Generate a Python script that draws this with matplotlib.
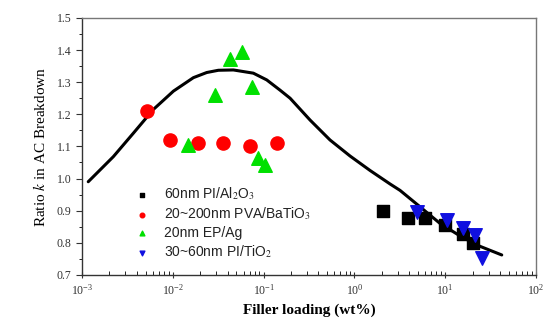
import numpy as np
import matplotlib
matplotlib.use("Agg")
import matplotlib.pyplot as plt
from matplotlib.ticker import LogLocator, MultipleLocator, NullFormatter

plt.rcParams['mathtext.fontset'] = 'stix'

# data
al2o3_x = [2.07, 3.9, 6.0, 10.0, 15.7, 20.0]
al2o3_y = [0.899, 0.878, 0.878, 0.855, 0.827, 0.800]

batio3_x = [0.0052, 0.0093, 0.019, 0.036, 0.071, 0.14]
batio3_y = [1.21, 1.12, 1.11, 1.11, 1.10, 1.11]

ag_x = [0.0147, 0.029, 0.0427, 0.0578, 0.0745, 0.0867, 0.1035]
ag_y = [1.104, 1.26, 1.372, 1.394, 1.285, 1.064, 1.042]

tio2_x = [4.9, 10.5, 15.7, 21.0, 25.4]
tio2_y = [0.896, 0.871, 0.846, 0.824, 0.752]

# fitted curve, points
fit_x = [0.00117, 0.00221, 0.00367, 0.0061, 0.01014, 0.01683, 0.0236, 0.0317,
         0.0464, 0.077, 0.1081, 0.1517, 0.1955, 0.3245, 0.538, 0.895,
         1.486, 2.466, 3.18, 5.27, 8.77, 14.6, 24.1, 41.9]
fit_y = [0.990, 1.068, 1.141, 1.215, 1.272, 1.314, 1.330, 1.337,
         1.338, 1.328, 1.307, 1.275, 1.250, 1.182, 1.120, 1.070,
         1.025, 0.983, 0.963, 0.912, 0.860, 0.821, 0.789, 0.762]

fig = plt.figure(figsize=(5.47, 3.2), dpi=100)
ax = fig.add_axes([0.150, 0.141, 0.830, 0.803])

ax.plot(fit_x, fit_y, color='black', lw=2.2, zorder=2,
        solid_joinstyle='round', solid_capstyle='round')

ax.scatter(al2o3_x, al2o3_y, marker='s', s=75, color='black', zorder=3,
           label=r'60nm PI/Al$_2$O$_3$')
ax.scatter(batio3_x, batio3_y, marker='o', s=90, color='#ff0000', zorder=3,
           label=r'20~200nm PVA/BaTiO$_3$')
ax.scatter(ag_x, ag_y, marker='^', s=95, color='#00e000', zorder=3,
           label='20nm EP/Ag')
ax.scatter(tio2_x, tio2_y, marker='v', s=95, color='#1010e0', zorder=4,
           label=r'30~60nm PI/TiO$_2$')

ax.set_xscale('log')
ax.set_xlim(1e-3, 1e2)
ax.set_ylim(0.7, 1.5)
ax.yaxis.set_major_locator(MultipleLocator(0.1))
ax.yaxis.set_minor_locator(MultipleLocator(0.05))
ax.xaxis.set_major_locator(LogLocator(base=10, numticks=10))
ax.xaxis.set_minor_locator(LogLocator(base=10, subs=np.arange(2, 10), numticks=10))
ax.xaxis.set_minor_formatter(NullFormatter())

ax.tick_params(axis='both', labelsize=8.5, colors='#333333')
ax.tick_params(axis='y', which='major', direction='out', length=4)
ax.tick_params(axis='y', which='minor', direction='out', length=2)
ax.tick_params(axis='x', which='major', direction='inout', length=5)
ax.tick_params(axis='x', which='minor', direction='in', length=3)
for lab in ax.get_xticklabels() + ax.get_yticklabels():
    lab.set_fontfamily('Liberation Serif')

for s in ax.spines.values():
    s.set_color('#777777')
    s.set_linewidth(1.0)
ax.spines['left'].set_color('#333333')
ax.spines['bottom'].set_color('#333333')

ax.set_xlabel('Filler loading (wt%)', fontsize=11, fontweight='bold',
              family='Liberation Serif', labelpad=4)
ax.set_ylabel(r'Ratio $k$ in AC Breakdown', fontsize=11,
              family='Liberation Serif', labelpad=6)

leg = ax.legend(loc='lower left', bbox_to_anchor=(0.08, 0.02), frameon=False,
                markerscale=0.35, handletextpad=0.6, labelspacing=0.25,
                borderaxespad=0.3, prop={'family': 'Liberation Sans', 'size': 10})
for t in leg.get_texts():
    t.set_color('#222222')

fig.savefig('out.png', dpi=100)
